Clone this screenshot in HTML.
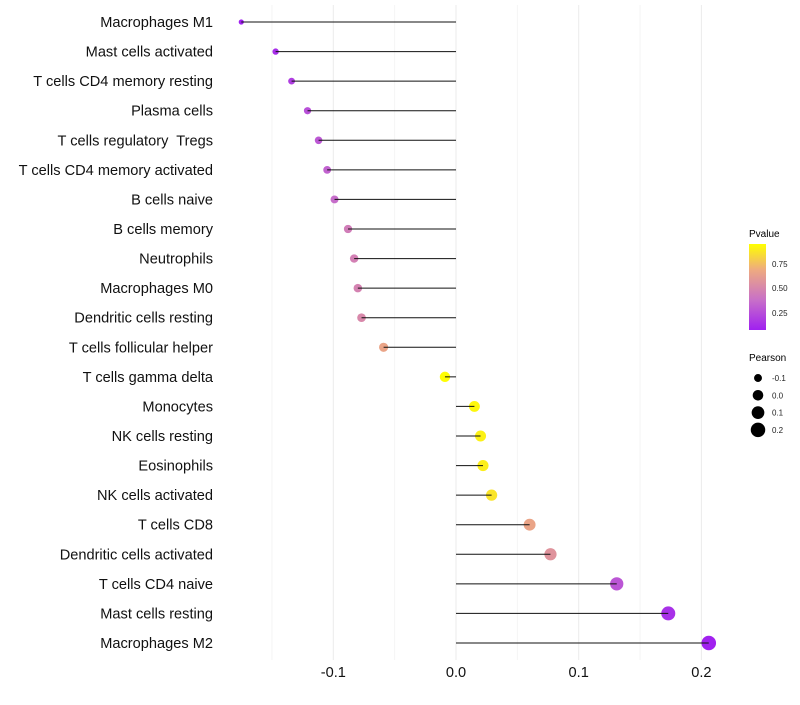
<!DOCTYPE html>
<html><head><meta charset="utf-8"><style>
body{margin:0;background:#fff;font-family:"Liberation Sans",sans-serif;}
text{white-space:pre;}
</style></head><body>
<svg id="chart" width="800" height="700" xmlns="http://www.w3.org/2000/svg" font-family="Liberation Sans, sans-serif">
<defs><linearGradient id="pg" x1="0" y1="1" x2="0" y2="0">
<stop offset="0" stop-color="#a020f0"/><stop offset="0.35" stop-color="#c870c8"/><stop offset="0.7" stop-color="#eeaa80"/><stop offset="1" stop-color="#ffff00"/>
</linearGradient></defs>
<g id="grid"></g>
<g id="marks"></g>
<g id="ylabels"></g>
<g id="xlabels"></g>
<g>
<text x="749" y="237" font-size="10" fill="#000">Pvalue</text>
<rect x="749" y="244" width="17" height="86" fill="url(#pg)"/>
<text x="772" y="267" font-size="8" fill="#222">0.75</text>
<text x="772" y="291" font-size="8" fill="#222">0.50</text>
<text x="772" y="316" font-size="8" fill="#222">0.25</text>
</g>
<g id="sizeleg">
<text x="749" y="361" font-size="10" fill="#000">Pearson</text>
</g>
</svg>
<script>
const cats=["Macrophages M1","Mast cells activated","T cells CD4 memory resting","Plasma cells","T cells regulatory  Tregs","T cells CD4 memory activated","B cells naive","B cells memory","Neutrophils","Macrophages M0","Dendritic cells resting","T cells follicular helper","T cells gamma delta","Monocytes","NK cells resting","Eosinophils","NK cells activated","T cells CD8","Dendritic cells activated","T cells CD4 naive","Mast cells resting","Macrophages M2"];
const pearson=[-0.175,-0.147,-0.134,-0.121,-0.112,-0.105,-0.099,-0.088,-0.083,-0.080,-0.077,-0.059,-0.009,0.015,0.020,0.022,0.029,0.060,0.077,0.131,0.173,0.206];
const pvals=[0.05,0.12,0.18,0.25,0.28,0.32,0.36,0.44,0.46,0.47,0.50,0.65,0.94,0.92,0.90,0.89,0.86,0.65,0.56,0.27,0.13,0.07];
const xticks=[-0.1,0.0,0.1,0.2];
const xtickLabels=["-0.1","0.0","0.1","0.2"];
const sizeBreaks=[-0.1,0.0,0.1,0.2];
const NS="http://www.w3.org/2000/svg";
const x=v=>456+v*1227;
const y=i=>22+i*(621/21);
const r=v=>Math.max(2,Math.sqrt(Math.max(1,28+122*v)));
function col(p){const t=Math.min(1,Math.max(0,(p-0.066)/(0.944-0.066)));
const st=[[0,[160,32,240]],[0.35,[200,112,200]],[0.7,[238,170,128]],[1,[255,255,0]]];
for(let k=0;k<st.length-1;k++){if(t<=st[k+1][0]){const f=(t-st[k][0])/(st[k+1][0]-st[k][0]);const a=st[k][1],b=st[k+1][1];return `rgb(${a.map((c,j)=>Math.round(c+(b[j]-c)*f)).join(',')})`;}}return "rgb(255,255,0)";}
function mk(tag,at,parent){const e=document.createElementNS(NS,tag);for(const k in at)e.setAttribute(k,at[k]);parent.appendChild(e);return e;}
const grid=document.getElementById('grid'),marks=document.getElementById('marks'),yl=document.getElementById('ylabels'),xl=document.getElementById('xlabels'),sl=document.getElementById('sizeleg');
for(let k=-3;k<=4;k++){const v=k*0.05;const g=mk('line',{x1:x(v),x2:x(v),y1:5,y2:660,stroke:(k%2===0)?'#ebebeb':'#f4f4f4','stroke-width':1},grid);

}
xticks.forEach((v,i)=>{const t=mk('text',{x:x(v),y:677,'font-size':14.6,'text-anchor':'middle',fill:'#111'},xl);t.textContent=xtickLabels[i];

});
cats.forEach((c,i)=>{const t=mk('text',{x:213,y:y(i)+5,'font-size':14.6,'text-anchor':'end',fill:'#111','xml:space':'preserve'},yl);t.textContent=c;


const p=mk('circle',{cx:x(pearson[i]),cy:y(i),r:r(pearson[i]),fill:col(pvals[i])},marks);


const l=mk('line',{x1:x(0),x2:x(pearson[i]),y1:y(i),y2:y(i),stroke:'#111','stroke-width':1},marks);

});
sizeBreaks.forEach((v,i)=>{const cy=378+i*17.3;const c=mk('circle',{cx:758,cy:cy,r:r(v),fill:'#000'},sl);


const t=mk('text',{x:772,y:cy+3,'font-size':8,fill:'#222'},sl);t.textContent=String(v===0?'0.0':v);

});
</script>
</body></html>
